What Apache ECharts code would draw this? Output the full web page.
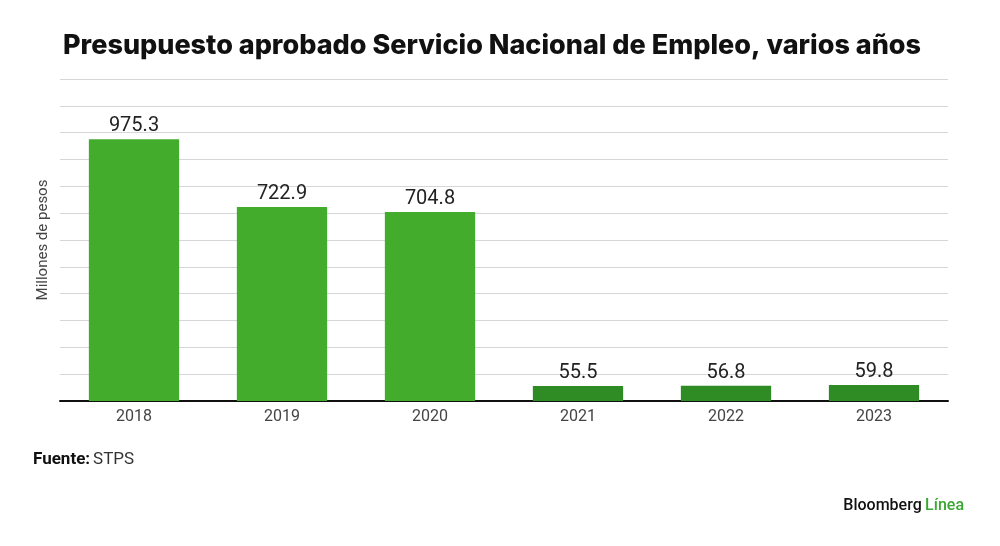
<!DOCTYPE html>
<html>
<head>
<meta charset="utf-8">
<script src="https://cdn.jsdelivr.net/npm/echarts@6/dist/echarts.min.js"></script>
<style>html,body{margin:0;padding:0;background:#fff}#c{width:1000px;height:546px}</style>
</head>
<body>
<div id="c"></div>
<script>
const categories = ['2018', '2019', '2020', '2021', '2022', '2023'];
const values = [975.3, 722.9, 704.8, 55.5, 56.8, 59.8];
const barColors = ['#44ac2c', '#44ac2c', '#44ac2c', '#2f8c25', '#2f8c25', '#2f8c25'];
const titleText = 'Presupuesto aprobado Servicio Nacional de Empleo, varios años';
const yAxisName = 'Millones de pesos';

const chart = echarts.init(document.getElementById('c'));
chart.setOption({
  backgroundColor: '#fff',
  animation: false,
  title: {
    text: titleText,
    left: 58, top: 27,
    textStyle: { fontFamily: 'Inter', fontWeight: 800, fontSize: 27, color: '#111', letterSpacing: -0.75 }
  },
  grid: { left: 60, right: 52, top: 79, bottom: 145 },
  xAxis: {
    type: 'category',
    data: categories,
    axisLine: { lineStyle: { color: '#111', width: 2 } },
    axisTick: { show: false },
    axisLabel: { color: '#444', fontSize: 16, fontFamily: 'Roboto', margin: 8 }
  },
  yAxis: {
    type: 'value',
    min: 0, max: 1200, interval: 100,
    name: yAxisName,
    nameLocation: 'middle',
    nameGap: 9,
    nameTextStyle: { color: '#444', fontSize: 15, fontFamily: 'Roboto' },
    axisLabel: { show: false },
    axisLine: { show: false },
    axisTick: { show: false },
    splitLine: { lineStyle: { color: '#d6d6d6', width: 1 } }
  },
  series: [{
    type: 'bar',
    data: values.map((v, i) => ({ value: v, itemStyle: { color: barColors[i] } })),
    barWidth: '61%',
    label: {
      show: true, position: 'top', distance: 3,
      color: '#222', fontSize: 20, fontFamily: 'Roboto'
    }
  }],
  graphic: [
    {
      type: 'text', left: 33, top: 451,
      style: {
        text: '{b|Fuente:}{n|STPS}',
        rich: {
          b: { fontFamily: 'Roboto', fontWeight: 'bold', fontSize: 17, fill: '#111' },
          n: { fontFamily: 'Roboto', fontSize: 17, fill: '#333', padding: [0, 0, 0, 3] }
        }
      }
    },
    {
      type: 'text', right: 36, top: 498,
      style: {
        text: '{b|Bloomberg} {g|Línea}',
        rich: {
          b: { fontFamily: 'Roboto', fontWeight: 500, fontSize: 16, fill: '#111' },
          g: { fontFamily: 'Roboto', fontWeight: 500, fontSize: 16, fill: '#3aa832' }
        }
      }
    }
  ]
});
</script>
</body>
</html>
